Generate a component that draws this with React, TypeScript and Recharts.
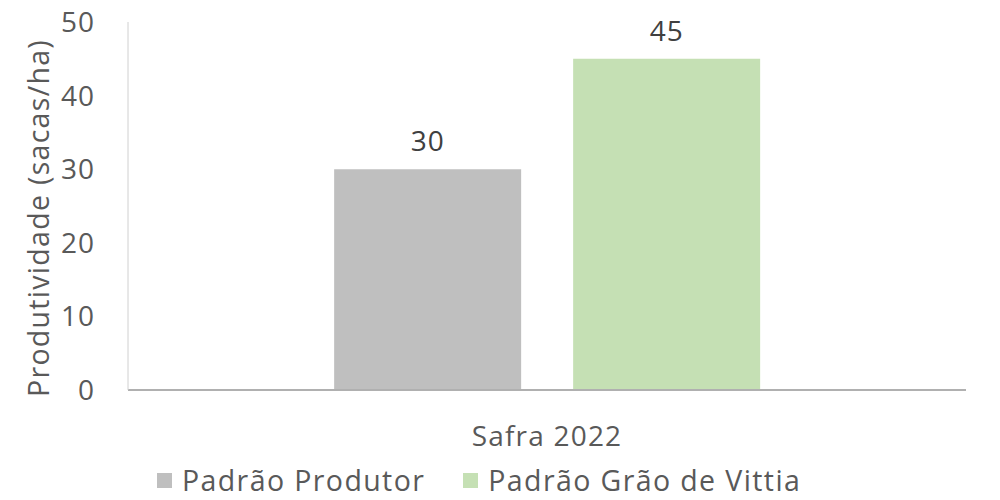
import React from 'react';
import { BarChart, Bar, XAxis, YAxis, LabelList } from 'recharts';

const categories = ['Safra 2022'];
const seriesNames = ['Padrão Produtor', 'Padrão Grão de Vittia'];
const produtorValues = [30];
const vittiaValues = [45];
const yTicks = [0, 10, 20, 30, 40, 50];

const colors = ['#bfbfbf', '#c5e0b4'];
const FONT = '"Open Sans", Lato, sans-serif';
const SPACING = 1.2;

const data = categories.map((name, i) => ({
  name,
  produtor: produtorValues[i],
  vittia: vittiaValues[i],
}));

// rotated axis title, sits a bit below the plot's vertical middle like the source
function YTitle({ viewBox }: any) {
  const cx = 38;
  const cy = viewBox.y + viewBox.height / 2 + 12;
  return (
    <text
      x={cx}
      y={cy}
      transform={`rotate(-90 ${cx} ${cy})`}
      textAnchor="middle"
      dominantBaseline="central"
      fill="#595959"
      fontSize={28.5}
      fontFamily={FONT}
      letterSpacing={1.3}
    >
      Produtividade (sacas/ha)
    </text>
  );
}

export default function App() {
  return (
    <div style={{ position: 'absolute', left: 0, top: 0, width: 1000, height: 500, background: '#fff' }}>
      <BarChart
        width={1000}
        height={500}
        data={data}
        margin={{ top: 22, right: 34, bottom: 0, left: 0 }}
        barCategoryGap="24.6%"
        barGap={52}
      >
        <XAxis
          dataKey="name"
          height={110}
          tickLine={false}
          tickSize={0}
          tickMargin={36}
          axisLine={{ stroke: '#b0b0b0', strokeWidth: 2 }}
          tick={{ fill: '#595959', fontSize: 28, fontFamily: FONT, letterSpacing: SPACING }}
        />
        <YAxis
          width={128}
          domain={[0, 50]}
          ticks={yTicks}
          tickLine={false}
          tickSize={0}
          tickMargin={33}
          axisLine={{ stroke: '#d0d0d0', strokeWidth: 1 }}
          tick={{ fill: '#595959', fontSize: 28, fontFamily: FONT, letterSpacing: 1 }}
          label={<YTitle />}
        />
        <Bar dataKey="produtor" name={seriesNames[0]} fill={colors[0]} isAnimationActive={false}>
          <LabelList dataKey="produtor" position="top" offset={18} fill="#404040" fontSize={28} fontFamily={FONT} letterSpacing={1} />
        </Bar>
        <Bar dataKey="vittia" name={seriesNames[1]} fill={colors[1]} isAnimationActive={false}>
          <LabelList dataKey="vittia" position="top" offset={18} fill="#404040" fontSize={28} fontFamily={FONT} letterSpacing={1} />
        </Bar>
      </BarChart>
      <div
        style={{
          position: 'absolute',
          top: 461,
          left: 157,
          display: 'flex',
          alignItems: 'center',
          fontFamily: FONT,
          fontSize: 28.5,
          letterSpacing: 1.4,
          color: '#595959',
          lineHeight: '38px',
        }}
      >
        {seriesNames.map((n, i) => (
          <div key={n} style={{ display: 'flex', alignItems: 'center', marginRight: 38 }}>
            <span style={{ width: 15, height: 15, background: colors[i], display: 'inline-block', marginRight: 10 }} />
            <span>{n}</span>
          </div>
        ))}
      </div>
    </div>
  );
}
